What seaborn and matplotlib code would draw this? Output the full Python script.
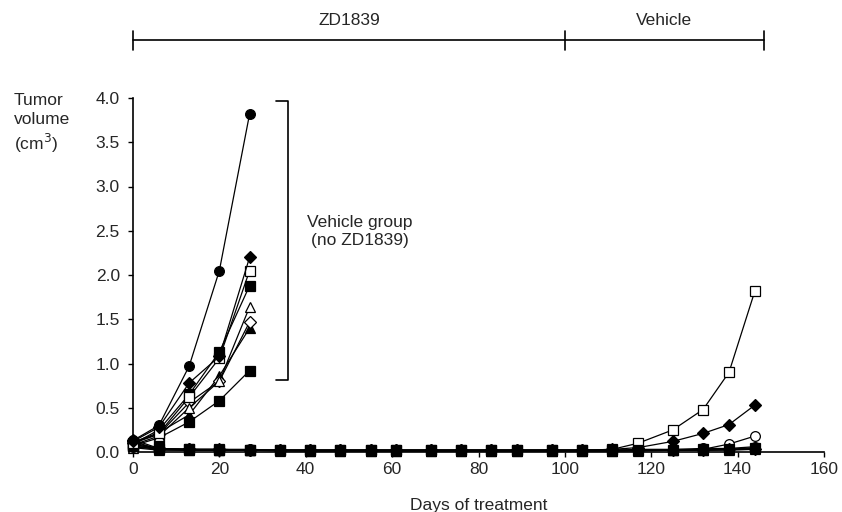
import pandas as pd
import matplotlib
matplotlib.use('Agg')
import matplotlib.pyplot as plt
import seaborn as sns

# --- Days measured
vehicle_days = [0, 6, 13, 20, 27]
treated_days = [0, 6, 13, 20, 27, 34, 41, 48, 55, 61, 69, 76, 83, 89, 97,
                104, 111, 117, 125, 132, 138, 144]

# --- Vehicle group (no ZD1839), tumor volume in cm3
veh_filled_circle = [0.13, 0.30, 0.97, 2.05, 3.82]
veh_filled_diamond = [0.12, 0.28, 0.78, 1.08, 2.20]
veh_open_square = [0.10, 0.21, 0.62, 1.06, 2.05]
veh_filled_square = [0.09, 0.25, 0.65, 1.13, 1.88]
veh_open_triangle = [0.08, 0.18, 0.50, 0.80, 1.64]
veh_open_diamond = [0.10, 0.20, 0.56, 0.80, 1.47]
veh_filled_triangle = [0.11, 0.22, 0.42, 0.86, 1.40]
veh_filled_square2 = [0.07, 0.16, 0.34, 0.58, 0.92]

# --- ZD1839 group, then vehicle after day 100
zd_open_square = [0.08, 0.04, 0.03, 0.03, 0.02, 0.02, 0.02, 0.02, 0.02, 0.02, 0.02,
                  0.02, 0.02, 0.02, 0.02, 0.02, 0.03, 0.10, 0.25, 0.48, 0.90, 1.82]
zd_filled_diamond = [0.12, 0.03, 0.03, 0.02, 0.02, 0.02, 0.02, 0.02, 0.02, 0.02, 0.02,
                     0.02, 0.02, 0.02, 0.02, 0.02, 0.03, 0.05, 0.12, 0.21, 0.31, 0.53]
zd_open_circle = [0.06, 0.03, 0.02, 0.02, 0.02, 0.02, 0.02, 0.02, 0.02, 0.02, 0.02,
                  0.02, 0.02, 0.02, 0.02, 0.02, 0.02, 0.02, 0.02, 0.03, 0.09, 0.18]
zd_filled_circle = [0.10, 0.04, 0.03, 0.03, 0.03, 0.02, 0.02, 0.02, 0.02, 0.02, 0.02,
                    0.02, 0.02, 0.02, 0.02, 0.02, 0.02, 0.03, 0.03, 0.04, 0.04, 0.06]
zd_filled_triangle = [0.09, 0.03, 0.02, 0.02, 0.02, 0.02, 0.01, 0.01, 0.01, 0.01, 0.01,
                      0.01, 0.01, 0.01, 0.01, 0.01, 0.01, 0.02, 0.02, 0.02, 0.03, 0.04]
zd_filled_square = [0.07, 0.03, 0.03, 0.02, 0.02, 0.02, 0.02, 0.02, 0.02, 0.02, 0.02,
                    0.02, 0.02, 0.02, 0.02, 0.02, 0.02, 0.02, 0.02, 0.03, 0.03, 0.05]
zd_open_triangle = [0.05, 0.02, 0.02, 0.02, 0.02, 0.01, 0.01, 0.01, 0.01, 0.01, 0.01,
                    0.01, 0.01, 0.01, 0.01, 0.01, 0.01, 0.01, 0.02, 0.02, 0.02, 0.03]
zd_filled_diamond2 = [0.14, 0.04, 0.03, 0.03, 0.02, 0.02, 0.02, 0.02, 0.02, 0.02, 0.02,
                      0.02, 0.02, 0.02, 0.02, 0.02, 0.02, 0.02, 0.02, 0.02, 0.03, 0.03]

# (values, days, marker, filled)
series = [
    (zd_filled_circle, treated_days, 'o', True),
    (zd_open_triangle, treated_days, '^', False),
    (zd_filled_triangle, treated_days, '^', True),
    (zd_open_circle, treated_days, 'o', False),
    (zd_filled_diamond2, treated_days, 'D', True),
    (zd_filled_diamond, treated_days, 'D', True),
    (zd_open_square, treated_days, 's', False),
    (zd_filled_square, treated_days, 's', True),
    (veh_filled_square2, vehicle_days, 's', True),
    (veh_filled_triangle, vehicle_days, '^', True),
    (veh_open_diamond, vehicle_days, 'D', False),
    (veh_open_triangle, vehicle_days, '^', False),
    (veh_filled_square, vehicle_days, 's', True),
    (veh_open_square, vehicle_days, 's', False),
    (veh_filled_diamond, vehicle_days, 'D', True),
    (veh_filled_circle, vehicle_days, 'o', True),
]

sns.set_style('white')
plt.rcParams['font.family'] = ['Liberation Sans', 'DejaVu Sans']
fs = 12.5

fig = plt.figure(figsize=(8.42, 5.12), dpi=100)
ax = fig.add_axes([133 / 842, 60 / 512, 691 / 842, 354 / 512])

for vals, days, mk, filled in series:
    df = pd.DataFrame({'Day': days, 'Volume': vals})
    ms = 6 if mk == 'D' else 7
    sns.lineplot(data=df, x='Day', y='Volume', ax=ax, color='black', lw=0.9,
                 marker=mk, markersize=ms, markeredgewidth=0.9,
                 markerfacecolor='black' if filled else 'white',
                 markeredgecolor='black', clip_on=False, zorder=3)

ax.set_xlim(0, 160)
ax.set_ylim(0, 4.0)
ax.set_xticks(range(0, 161, 20))
ax.set_yticks([i * 0.5 for i in range(9)])
ax.set_yticklabels([f'{i * 0.5:.1f}' for i in range(9)])
ax.tick_params(axis='both', labelsize=fs, direction='out', length=3.5, width=1,
               color='black', left=True, bottom=True)
ax.tick_params(axis='y', pad=6)
ax.tick_params(axis='x', pad=4)
for s in ['top', 'right']:
    ax.spines[s].set_visible(False)
for s in ['left', 'bottom']:
    ax.spines[s].set_color('black')
    ax.spines[s].set_linewidth(1.2)
ax.set_xlabel('Days of treatment', fontsize=fs, labelpad=15)
ax.set_ylabel('')
fig.text(14 / 842, 1 - 93 / 512, 'Tumor\nvolume\n(cm$^3$)', fontsize=fs,
         ha='left', va='top', linespacing=1.3)

# --- Bracket for the vehicle group
bx_l, bx_r, by_t, by_b = 33.0, 35.9, 3.97, 0.81
ax.plot([bx_l, bx_r, bx_r, bx_l], [by_t, by_t, by_b, by_b], color='black',
        lw=1.2, clip_on=False)
ax.text(52.5, 2.49, 'Vehicle group\n(no ZD1839)', fontsize=fs, ha='center',
        va='center', linespacing=1.25)

# --- Treatment period bar on top
bar_y = 4.65
bar_end = 146
ax.plot([0, bar_end], [bar_y, bar_y], color='black', lw=1.2, clip_on=False)
for xv in [0, 100, bar_end]:
    ax.plot([xv, xv], [bar_y - 0.11, bar_y + 0.11], color='black', lw=1.2,
            clip_on=False)
ax.text(50, bar_y + 0.14, 'ZD1839', fontsize=fs, ha='center', va='bottom')
ax.text(123, bar_y + 0.14, 'Vehicle', fontsize=fs, ha='center', va='bottom')

fig.savefig('out.png', dpi=100)
